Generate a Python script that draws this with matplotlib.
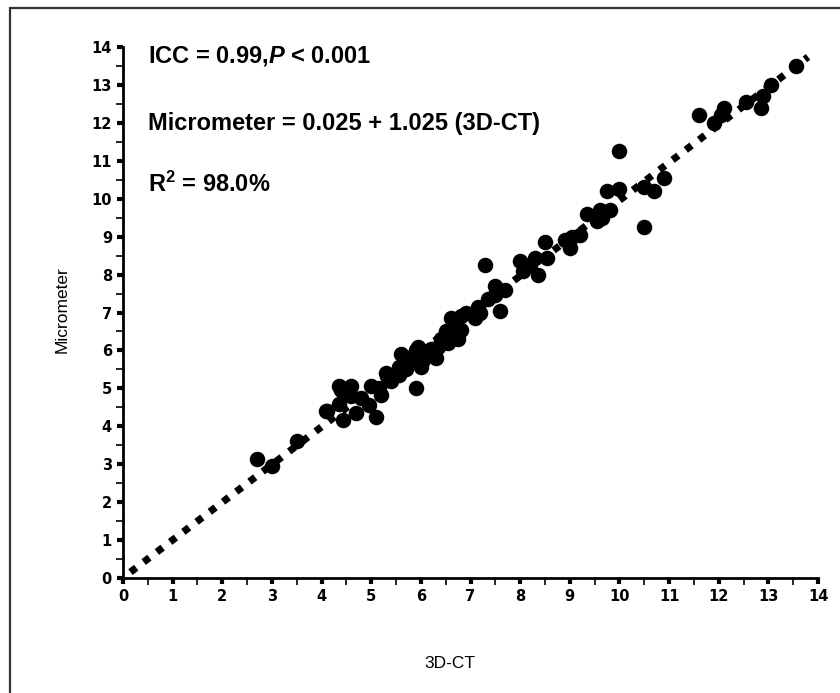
import numpy as np
import matplotlib.pyplot as plt
from matplotlib.patches import Rectangle

# 3D-CT vs micrometer readings
ct = [2.7, 3.0, 3.5, 4.1, 4.35, 4.6, 4.35, 4.43, 4.7, 4.8, 4.95, 5.0, 5.1, 5.2,
      5.3, 5.4, 5.55, 5.6, 5.75, 5.85, 5.9, 5.9, 6.0, 6.1, 6.2, 6.3, 6.4, 6.5,
      6.6, 6.7, 6.75, 6.8, 6.8, 7.1, 7.15, 7.3, 7.35, 7.5, 7.5, 7.6, 7.7, 8.0,
      8.05, 8.2, 8.3, 8.35, 8.5, 8.55, 8.9, 9.0, 9.05, 9.2, 9.35, 9.55, 9.6,
      9.65, 9.75, 9.8, 10.0, 10.0, 10.5, 10.5, 10.7, 10.9, 11.6, 11.9, 12.05,
      12.1, 12.55, 12.85, 12.9, 13.05, 13.55,
      4.08, 4.4, 4.6, 5.15, 5.35, 5.55, 5.7, 5.95, 6.05, 6.35, 6.55, 6.9, 7.2]
micro = [3.15, 2.95, 3.6, 4.4, 5.05, 5.07, 4.6, 4.17, 4.35, 4.75, 4.55, 5.05,
         4.25, 4.83, 5.4, 5.2, 5.55, 5.9, 5.7, 5.85, 6.0, 5.0, 5.55, 5.9, 6.05,
         5.8, 6.3, 6.5, 6.85, 6.75, 6.3, 6.55, 6.9, 6.85, 7.15, 8.25, 7.35,
         7.45, 7.7, 7.05, 7.6, 8.35, 8.1, 8.25, 8.45, 8.0, 8.85, 8.45, 8.9, 8.7,
         9.0, 9.05, 9.6, 9.4, 9.7, 9.5, 10.2, 9.7, 10.25, 11.25, 9.25, 10.3,
         10.2, 10.55, 12.2, 12.0, 12.2, 12.4, 12.55, 12.4, 12.7, 13.0, 13.5,
         4.4, 4.95, 4.8, 5.0, 5.25, 5.35, 5.5, 6.1, 5.75, 6.1, 6.2, 7.0, 7.0]

x_ticks = list(range(0, 15))
y_ticks = list(range(0, 15))

plt.rcParams['mathtext.fontset'] = 'custom'
plt.rcParams['mathtext.it'] = 'Liberation Sans:italic:bold'
plt.rcParams['mathtext.rm'] = 'Liberation Sans:bold'

W, H = 840, 693
fig = plt.figure(figsize=(8.4, 6.93), dpi=100)
ax = fig.add_axes([123 / W, 1 - 578 / H, (818 - 123) / W, (578 - 47) / H])

# outer frame of the scanned figure
fig.patches.append(Rectangle((10 / W, -0.05), 1.2, 1.05 - 8 / H, transform=fig.transFigure,
                             fill=False, edgecolor='#333333', linewidth=1.6))

ax.scatter(ct, micro, s=125, c='black', zorder=3, linewidths=0)

slope, intercept = np.polyfit(ct, micro, 1)
xl = np.array([0.15, 13.8])
ax.plot(xl, intercept + slope * xl, color='black', lw=5.2,
        linestyle=(0, (1.0, 1.3)), zorder=2)

ax.set_xlim(0, 14)
ax.set_ylim(0, 14)
ax.set_xticks(x_ticks)
ax.set_yticks(y_ticks)
ax.set_xticks(np.arange(0.5, 14, 1), minor=True)
ax.set_yticks(np.arange(0.5, 14, 1), minor=True)
for s in ['top', 'right']:
    ax.spines[s].set_visible(False)
for s in ['left', 'bottom']:
    ax.spines[s].set_linewidth(2)
ax.tick_params(which='major', length=4, width=3, pad=4, labelsize=10.5)
ax.tick_params(which='minor', length=5, width=1.2)
for lab in ax.get_xticklabels() + ax.get_yticklabels():
    lab.set_fontweight('bold')

fig.text(450 / W, 1 - 664 / H, '3D-CT', ha='center', va='center', fontsize=12.5,
         family='Liberation Sans')
fig.text(62 / W, 1 - 310 / H, 'Micrometer', ha='center', va='center', fontsize=12.5,
         rotation=90, family='Liberation Sans')

txt = dict(fontsize=17, fontweight='bold', family='Liberation Sans', va='baseline')
fig.text(148 / W, 1 - 62 / H, 'ICC = 0.99,$P$ < 0.001', **txt)
fig.text(148 / W, 1 - 130 / H, 'Micrometer = 0.025 + 1.025 (3D-CT)', **txt)
fig.text(148 / W, 1 - 192 / H, 'R$^{2}$ = 98.0%', **txt)

fig.savefig('out.png', dpi=100)
